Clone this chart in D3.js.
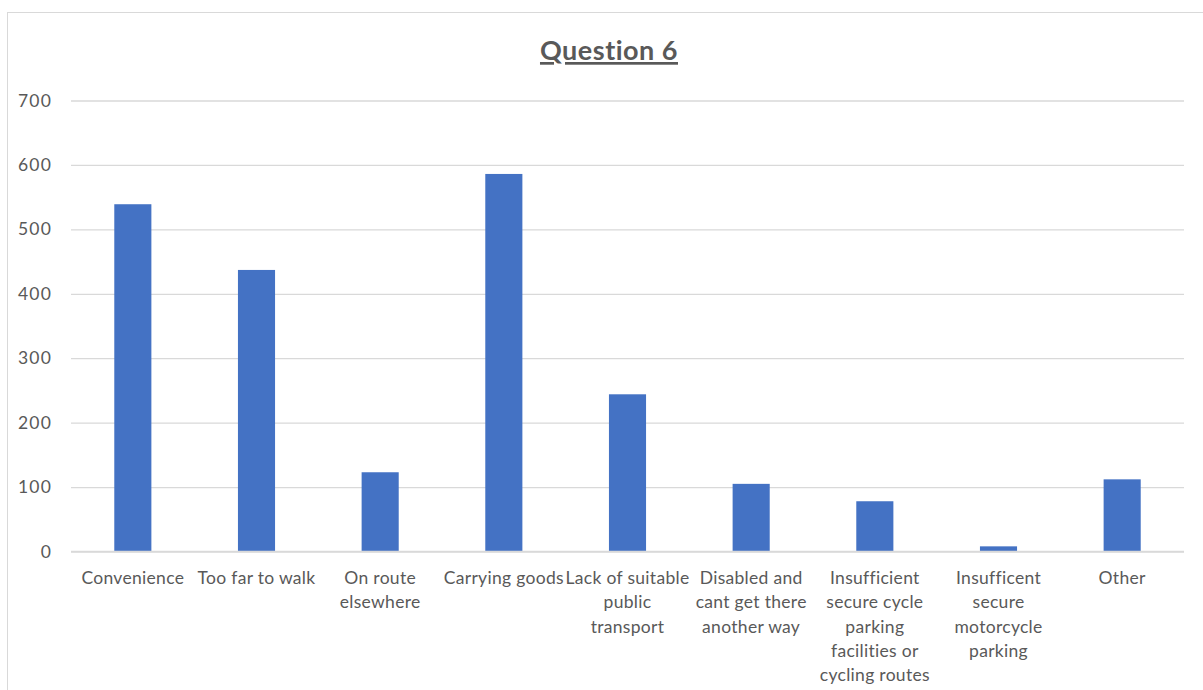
<!DOCTYPE html>
<html>
<head>
<meta charset="utf-8">
<script src="https://cdn.jsdelivr.net/npm/d3@7"></script>
<style>
  html, body { margin: 0; padding: 0; background: #fff; }
  svg { display: block; font-family: Lato, "Open Sans", sans-serif; }
</style>
</head>
<body>
<svg id="chart" width="1203" height="690"></svg>
<script>
// Reasons given for driving (Question 6)
const categories = [
  "Convenience", "Too far to walk", "On route elsewhere", "Carrying goods",
  "Lack of suitable public transport", "Disabled and cant get there another way",
  "Insufficient secure cycle parking facilities or cycling routes",
  "Insufficent secure motorcycle parking", "Other"
];
const values = [539, 437, 123, 586, 244, 105, 78, 8, 112];
const categoryLines = [
  ["Convenience"],
  ["Too far to walk"],
  ["On route", "elsewhere"],
  ["Carrying goods"],
  ["Lack of suitable", "public", "transport"],
  ["Disabled and", "cant get there", "another way"],
  ["Insufficient", "secure cycle", "parking", "facilities or", "cycling routes"],
  ["Insufficent", "secure", "motorcycle", "parking"],
  ["Other"]
];
const yTicks = [0, 100, 200, 300, 400, 500, 600, 700];
const titleText = "Question 6";

const svg = d3.select("#chart");
const margin = { left: 71, right: 1184, top: 100.5, bottom: 551.5 };

// outer chart frame
svg.append("rect")
  .attr("x", 7.5).attr("y", 12.5)
  .attr("width", 1220).attr("height", 700)
  .attr("fill", "#fff").attr("stroke", "#d9d9d9").attr("stroke-width", 1);

const x = d3.scaleBand()
  .domain(categories)
  .range([margin.left, margin.right])
  .paddingInner(0.7).paddingOuter(0.35);

const y = d3.scaleLinear()
  .domain([0, 700])
  .range([margin.bottom, margin.top]);

// gridlines + y labels
const yAxis = d3.axisLeft(y)
  .tickValues(yTicks)
  .tickSize(-(margin.right - margin.left))
  .tickPadding(19);
const gy = svg.append("g")
  .attr("transform", `translate(${margin.left},0)`)
  .call(yAxis);
gy.select(".domain").remove();
gy.selectAll(".tick line").attr("stroke", "#d9d9d9").attr("stroke-width", 1.3);
gy.selectAll(".tick text")
  .attr("fill", "#595959")
  .style("font-size", "17.5px")
  .style("letter-spacing", "1.2px")
  .style("font-family", "Lato, 'Open Sans', sans-serif");

// bars
svg.append("g").selectAll("rect")
  .data(values)
  .join("rect")
  .attr("x", (d, i) => x(categories[i]))
  .attr("y", d => y(d))
  .attr("width", x.bandwidth())
  .attr("height", d => y(0) - y(d))
  .attr("fill", "#4472c4");

// x axis baseline
svg.append("line")
  .attr("x1", margin.left).attr("x2", margin.right)
  .attr("y1", y(0)).attr("y2", y(0))
  .attr("stroke", "#d9d9d9").attr("stroke-width", 1.3);

// category labels (wrapped)
const labels = svg.append("g").selectAll("text")
  .data(categories)
  .join("text")
  .attr("text-anchor", "middle")
  .attr("fill", "#595959")
  .style("font-size", "17.5px")
  .style("letter-spacing", "0.3px")
  .attr("x", d => x(d) + x.bandwidth() / 2)
  .attr("y", 584);
labels.each(function(d, i) {
  const t = d3.select(this);
  categoryLines[i].forEach((line, k) => {
    t.append("tspan")
      .attr("x", x(d) + x.bandwidth() / 2)
      .attr("y", 584 + k * 24.3)
      .text(line);
  });
});

// title
svg.append("text")
  .attr("x", 609).attr("y", 60)
  .attr("text-anchor", "middle")
  .attr("fill", "#595959")
  .style("font-size", "27px")
  .style("font-weight", "bold")
  .style("letter-spacing", "0.5px")
  .style("text-decoration", "underline")
  .text(titleText);
</script>
</body>
</html>
